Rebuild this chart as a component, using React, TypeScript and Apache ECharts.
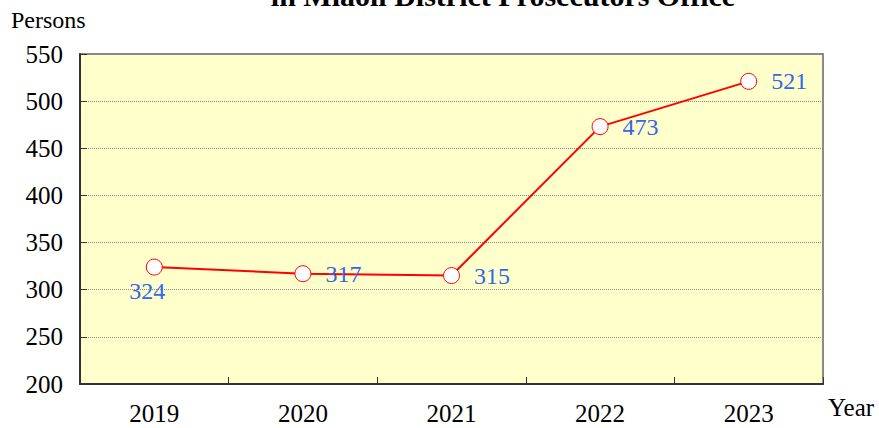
import React, { useEffect, useRef } from "react";
import * as echarts from "echarts";

const years = ["2019", "2020", "2021", "2022", "2023"];
const persons = [324, 317, 315, 473, 521];
const labelPositions = ["bottom", "right", "right", "right", "right"];
const titleText = "in Miaoli District Prosecutors Office";

const FONT = "'Liberation Serif', 'Times New Roman', serif";

export default function App() {
  const ref = useRef<HTMLDivElement>(null);
  useEffect(() => {
    if (!ref.current) return;
    const chart = echarts.init(ref.current, null, { renderer: "svg" });
    chart.setOption({
      animation: false,
      backgroundColor: "#ffffff",
      graphic: [
        {
          type: "text",
          x: 503,
          y: 10,
          style: {
            text: titleText,
            font: `bold 30px ${FONT}`,
            fill: "#000",
            textAlign: "center",
            verticalAlign: "bottom",
          },
        },
        {
          type: "text",
          x: 11,
          y: 8,
          style: { text: "Persons", font: `24px ${FONT}`, fill: "#000" },
        },
        {
          type: "text",
          x: 828,
          y: 395,
          style: { text: "Year", font: `25px ${FONT}`, fill: "#000" },
        },
      ],
      grid: {
        left: 80,
        top: 54,
        width: 743,
        height: 330,
        show: true,
        backgroundColor: "#ffffcc",
        borderColor: "#8a8a8a",
        borderWidth: 2,
      },
      xAxis: {
        type: "category",
        data: years,
        boundaryGap: true,
        axisLine: { show: true, lineStyle: { color: "#333", width: 2 } },
        axisTick: { show: true, inside: true, length: 7, lineStyle: { color: "#333" } },
        axisLabel: { color: "#000", fontFamily: FONT, fontSize: 25, margin: 17 },
      },
      yAxis: {
        type: "value",
        min: 200,
        max: 550,
        interval: 50,
        axisLine: { show: true, lineStyle: { color: "#333", width: 2 } },
        axisTick: { show: true, inside: true, length: 7, lineStyle: { color: "#333" } },
        axisLabel: { color: "#000", fontFamily: FONT, fontSize: 25, margin: 17 },
        splitLine: { show: true, lineStyle: { color: "#888", type: "dotted", width: 1 } },
      },
      series: [
        {
          type: "line",
          data: persons.map((v, i) => ({
            value: v,
            label:
              labelPositions[i] === "bottom"
                ? { position: "bottom", distance: 3, offset: [-7, 0] }
                : { position: "right", distance: 14 },
          })),
          lineStyle: { color: "#ff0000", width: 2 },
          itemStyle: { color: "#ffffff", borderColor: "#ff0000", borderWidth: 1 },
          symbol: "circle",
          symbolSize: 16,
          showAllSymbol: true,
          label: {
            show: true,
            color: "#3366ee",
            fontFamily: FONT,
            fontSize: 24,
          },
        },
      ],
    });
    return () => chart.dispose();
  }, []);
  return <div ref={ref} style={{ width: 879, height: 428, position: "absolute", left: 0, top: 0 }} />;
}
